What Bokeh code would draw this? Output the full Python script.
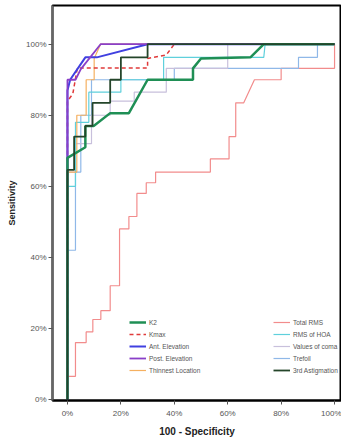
from bokeh.plotting import figure
from bokeh.models import Legend, LegendItem, Range1d, FixedTicker
from bokeh.embed import file_html
from bokeh.resources import INLINE

# ---- data (100 - specificity %, sensitivity %) ----
tick_values = [0, 20, 40, 60, 80, 100]
tick_labels = ["0%", "20%", "40%", "60%", "80%", "100%"]

total_rms_x = [0, 0, 3, 3, 7, 7, 9.5, 9.5, 12.5, 12.5, 16, 16, 19.5, 19.5, 23, 23, 26, 26, 29.5, 29.5, 33, 33, 53.5, 53.5, 60.5, 60.5, 63, 63, 66, 70, 80, 80, 100, 100]
total_rms_y = [0, 6.5, 6.5, 16, 16, 19, 19, 22.5, 22.5, 25, 25, 32, 32, 48, 48, 51.5, 51.5, 58, 58, 61, 61, 64, 64, 67.7, 67.7, 74, 74, 83.5, 83.5, 90, 90, 93.2, 93.2, 100]

trefoil_x = [0, 0, 3, 3, 5, 5, 9, 9, 40, 40, 86.5, 86.5, 93.6, 93.6, 100]
trefoil_y = [0, 42, 42, 64, 64, 80, 80, 90, 90, 93.2, 93.2, 96.3, 96.3, 100, 100]

coma_x = [0, 0, 3, 3, 9, 9, 16, 16, 25, 25, 37, 37, 60, 60, 100]
coma_y = [0, 64, 64, 72, 72, 80, 80, 84, 84, 86.5, 86.5, 93.2, 93.2, 100, 100]

hoa_x = [0, 0, 3, 3, 8, 8, 20, 20, 36, 36, 73.5, 74, 100]
hoa_y = [0, 60, 60, 78, 78, 86.5, 86.5, 90, 90, 96.3, 96.3, 100, 100]

thin_x = [0, 0, 3.5, 3.5, 7, 7, 10, 10, 12.4, 100]
thin_y = [0, 64, 64, 80, 80, 90, 90, 96, 100, 100]

astig_x = [0, 0, 2.5, 2.5, 6.7, 6.7, 9.4, 9.4, 16, 16, 20, 20, 30, 30, 100]
astig_y = [0, 64.6, 64.6, 74, 74, 77, 77, 83.5, 83.5, 90, 90, 96.3, 96.3, 100, 100]

kmax_x = [0, 0, 2, 3.7, 30, 30, 37, 40, 100]
kmax_y = [0, 84, 86, 93.3, 93.3, 96, 97, 100, 100]

k2_x = [0, 0, 6.7, 6.7, 9.8, 16, 23, 30, 47, 47, 50, 68.5, 73.5, 100]
k2_y = [0, 68, 71, 77, 77, 80.6, 80.6, 90, 90, 93.2, 96, 96.3, 100, 100]

post_x = [0, 0, 3, 5, 12.4, 100]
post_y = [0, 90, 90, 93, 100, 100]

ant_x = [0, 0, 1, 6.7, 11, 30, 100]
ant_y = [0, 87, 90, 96.3, 96.3, 100, 100]

FONT = "Liberation Sans"

p = figure(width=341, height=440, output_backend="svg", toolbar_location=None,
           x_range=Range1d(-5.6, 102.6), y_range=Range1d(-0.3, 110.9),
           min_border_left=52, min_border_right=0, min_border_top=5, min_border_bottom=40)
p.grid.visible = False
p.background_fill_color = "white"
p.outline_line_color = "black"
p.outline_line_width = 2

for ax in (p.xaxis[0], p.yaxis[0]):
    ax.ticker = FixedTicker(ticks=tick_values)
    ax.major_label_overrides = {v: l for v, l in zip(tick_values, tick_labels)}
    ax.minor_tick_line_color = None
    ax.major_tick_in = 0
    ax.major_tick_out = 4
    ax.major_tick_line_color = "#555555"
    ax.major_label_text_font = FONT
    ax.major_label_text_font_size = "8px"
    ax.major_label_text_color = "#555555"
    ax.axis_label_text_font = FONT
    ax.axis_label_text_font_style = "bold"
    ax.axis_label_text_color = "#222222"

p.xaxis.axis_label = "100 - Specificity"
p.xaxis.axis_label_text_font_size = "10px"
p.xaxis.axis_line_color = "black"
p.xaxis.axis_line_width = 2
p.xaxis.major_label_standoff = 4
p.xaxis.axis_label_standoff = 5
p.yaxis.axis_label = "Sensitivity"
p.yaxis.axis_label_text_font_size = "9px"
p.yaxis.axis_line_color = "#666666"
p.yaxis.axis_line_width = 2
p.yaxis.major_label_standoff = 2
p.yaxis.axis_label_standoff = 6

r_total = p.line(total_rms_x, total_rms_y, line_color="#f28c8c", line_width=1.2)
r_tref = p.line(trefoil_x, trefoil_y, line_color="#8fb8e8", line_width=1.2)
r_coma = p.line(coma_x, coma_y, line_color="#c8c0dc", line_width=1.2)
r_hoa = p.line(hoa_x, hoa_y, line_color="#5fd0dc", line_width=1.2)
r_thin = p.line(thin_x, thin_y, line_color="#f5b060", line_width=1.2)
r_kmax = p.line(kmax_x, kmax_y, line_color="#e03a3a", line_width=1.5, line_dash="4 3")
r_ant = p.line(ant_x, ant_y, line_color="#4040e0", line_width=2.0)
r_post = p.line(post_x, post_y, line_color="#8a3fc8", line_width=1.8)
r_k2 = p.line(k2_x, k2_y, line_color="#1f8f55", line_width=2.5)
r_astig = p.line(astig_x, astig_y, line_color="#24452a", line_width=1.8)

def make_legend(items, x, y):
    lg = Legend(items=[LegendItem(label=l, renderers=[r]) for l, r in items],
                location=(x, y), orientation="vertical",
                label_text_font=FONT, label_text_font_size="6.5px", label_text_color="#555555",
                glyph_width=17, glyph_height=10, label_height=10, label_width=30,
                spacing=2, padding=0, margin=0, label_standoff=3,
                border_line_color=None, background_fill_alpha=0)
    p.add_layout(lg, "center")

make_legend([("K2", r_k2), ("Kmax", r_kmax), ("Ant. Elevation", r_ant),
             ("Post. Elevation", r_post), ("Thinnest Location", r_thin)], 77, 25)
make_legend([("Total RMS", r_total), ("RMS of HOA", r_hoa), ("Values of coma", r_coma),
             ("Trefoil", r_tref), ("3rd Astigmation", r_astig)], 221, 25)

open("out.html", "w").write(file_html(p, INLINE))
